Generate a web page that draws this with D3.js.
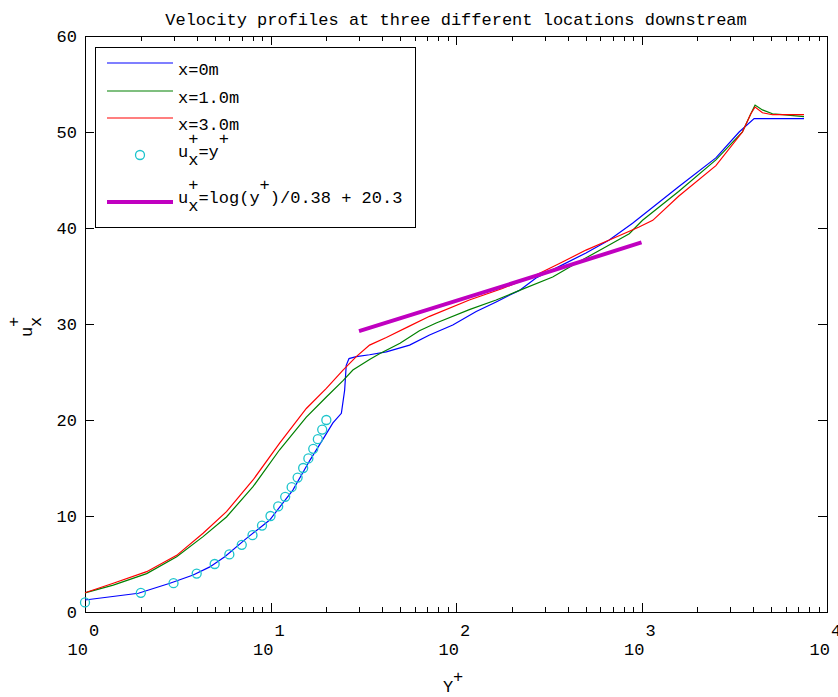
<!DOCTYPE html>
<html>
<head>
<meta charset="utf-8">
<script src="https://cdn.jsdelivr.net/npm/d3@7"></script>
<style>
    body { margin: 0; background: #fff; }
    text { font-family: "Liberation Mono", "DejaVu Sans Mono", monospace; font-size: 17px; fill: #000; }
</style>
</head>
<body>
<script>
// series (y+ , u+)
const yPlus0 = [1, 1.94, 2.87, 3.83, 4.71, 5.67, 7.42, 9.9, 13.2, 16.3, 19.6, 21.7, 24.1, 25.1, 25.6, 26.5, 29.0, 34.2, 42.1, 56.2, 72.0, 96.1, 128.5, 164.6, 194, 219.8, 270, 361, 502, 670, 895, 1585, 2518, 3360, 4047, 7516];
const uPlus0 = [1.25, 1.95, 3.0, 3.85, 4.7, 5.76, 7.67, 9.58, 12.7, 15.8, 18.3, 19.7, 20.7, 23.1, 25.7, 26.4, 26.6, 26.8, 27.1, 27.8, 28.85, 29.9, 31.3, 32.3, 33.0, 33.5, 34.8, 36.0, 37.4, 38.75, 40.5, 44.3, 47.3, 50.0, 51.4, 51.4];

const yPlus1 = [1, 1.42, 2.15, 3.12, 4.33, 5.79, 8.05, 11.2, 15.6, 20.0, 24.6, 27.8, 34.2, 38.7, 49.9, 63.5, 78.2, 118, 164.6, 220, 332, 462, 644, 859, 1013, 1585, 2518, 3500, 3885, 4095, 4487, 5080, 5745, 7516];
const uPlus1 = [2.0, 2.8, 4.0, 5.76, 7.85, 9.9, 13.05, 16.9, 20.3, 22.4, 24.1, 25.2, 26.3, 26.9, 28.0, 29.3, 30.1, 31.5, 32.5, 33.5, 34.9, 36.5, 38.05, 39.4, 40.8, 43.8, 47.1, 50.0, 51.9, 52.8, 52.3, 51.9, 51.8, 51.6];

const yPlus3 = [1, 1.42, 2.15, 3.12, 4.33, 5.79, 8.05, 11.2, 15.6, 20.0, 24.6, 29.0, 34.2, 42.1, 55, 72, 118, 178, 270, 361, 502, 700, 970, 1150, 1585, 2518, 3500, 3885, 4095, 4487, 5080, 7516];
const uPlus3 = [2.0, 3.0, 4.2, 5.9, 8.2, 10.45, 13.75, 17.6, 21.2, 23.3, 25.2, 26.6, 27.8, 28.6, 29.7, 30.8, 32.5, 33.7, 35.1, 36.3, 37.7, 38.9, 40.1, 40.8, 43.3, 46.5, 50.0, 51.9, 52.6, 52.0, 51.8, 51.8];

const yPlusLin = [1, 2, 3, 4, 5, 6, 7, 8, 9, 10, 11, 12, 13, 14, 15, 16, 17, 18, 19, 20];
const uPlusLin = [1, 2, 3, 4, 5, 6, 7, 8, 9, 10, 11, 12, 13, 14, 15, 16, 17, 18, 19, 20];

const yPlusLog = [30, 100, 300, 1000];
const uPlusLog = [29.25, 32.4, 35.3, 38.5];

const xTickExps = [0, 1, 2, 3, 4];
const yTicks = [0, 10, 20, 30, 40, 50, 60];
const titleText = "Velocity profiles at three different locations downstream";

const width = 838, height = 697;
const margin = { top: 36, right: 11, bottom: 85, left: 85 };

const svg = d3.select("body").append("svg")
    .attr("width", width)
    .attr("height", height);

const x = d3.scaleLog().domain([1, 1e4]).range([margin.left, width - margin.right]);
const y = d3.scaleLinear().domain([0, 60]).range([height - margin.bottom, margin.top]);

const majorX = xTickExps.map(e => Math.pow(10, e));
const minorX = [];
for (let e = 0; e < 4; e++) {
    for (let k = 2; k <= 9; k++) minorX.push(k * Math.pow(10, e));
}

// ticks, pointing inward, on all four sides
const addAxis = (axis, tx, ty) => {
    const g = svg.append("g")
        .attr("transform", `translate(${tx},${ty})`)
        .call(axis);
    g.select(".domain").remove();
    g.selectAll("text").remove();
    g.selectAll("line").attr("stroke", "#000").attr("shape-rendering", "crispEdges");
};
addAxis(d3.axisBottom(x).tickValues(minorX).tickSize(-5), 0, y(0));
addAxis(d3.axisBottom(x).tickValues(majorX).tickSize(-9), 0, y(0));
addAxis(d3.axisTop(x).tickValues(minorX).tickSize(-5), 0, y(60));
addAxis(d3.axisTop(x).tickValues(majorX).tickSize(-9), 0, y(60));
addAxis(d3.axisLeft(y).tickValues(yTicks).tickSize(-9), x(1), 0);
addAxis(d3.axisRight(y).tickValues(yTicks).tickSize(-9), x(1e4), 0);

svg.append("rect")
    .attr("x", x(1)).attr("y", y(60))
    .attr("width", x(1e4) - x(1)).attr("height", y(0) - y(60))
    .attr("fill", "none").attr("stroke", "#000")
    .attr("shape-rendering", "crispEdges");

// tick labels
svg.selectAll("text.ytick").data(yTicks).enter().append("text")
    .attr("class", "ytick")
    .attr("x", x(1) - 8)
    .attr("y", d => y(d) + 6)
    .attr("text-anchor", "end")
    .text(d => d);

const xl = svg.selectAll("g.xtick").data(xTickExps).enter().append("g")
    .attr("class", "xtick")
    .attr("transform", d => `translate(${x(Math.pow(10, d))},0)`);
xl.append("text").attr("x", 3).attr("y", 655).attr("text-anchor", "end").text("10");
xl.append("text").attr("x", 4).attr("y", 636).text(d => d);

// title and axis labels
svg.append("text")
    .attr("x", (x(1) + x(1e4)) / 2).attr("y", 25)
    .attr("text-anchor", "middle")
    .text(titleText);

svg.append("text").attr("x", 443).attr("y", 692).text("Y");
svg.append("text").attr("x", 453).attr("y", 682).text("+");

const yl = svg.append("g").attr("transform", "translate(32,337) rotate(-90)");
yl.append("text").attr("x", 0).attr("y", 0).text("u");
yl.append("text").attr("x", 10).attr("y", -13).text("+");
yl.append("text").attr("x", 10).attr("y", 9).text("x");

// curves
const line = d3.line()
    .x(d => x(d[0]))
    .y(d => y(d[1]));

const series = [
    { xs: yPlus0, ys: uPlus0, color: "#0000ff", w: 1.2 },
    { xs: yPlus1, ys: uPlus1, color: "#008000", w: 1.2 },
    { xs: yPlus3, ys: uPlus3, color: "#ff0000", w: 1.2 }
];
series.forEach(s => {
    svg.append("path")
        .datum(s.xs.map((v, i) => [v, s.ys[i]]))
        .attr("d", line)
        .attr("fill", "none")
        .attr("stroke", s.color)
        .attr("stroke-width", s.w);
});

svg.selectAll("circle.lin").data(yPlusLin.map((v, i) => [v, uPlusLin[i]])).enter()
    .append("circle")
    .attr("class", "lin")
    .attr("cx", d => x(d[0]))
    .attr("cy", d => y(d[1]))
    .attr("r", 4.5)
    .attr("fill", "none")
    .attr("stroke", "#1cc4cc")
    .attr("stroke-width", 1.3);

svg.append("path")
    .datum(yPlusLog.map((v, i) => [v, uPlusLog[i]]))
    .attr("d", line)
    .attr("fill", "none")
    .attr("stroke", "#c000c0")
    .attr("stroke-width", 4);

// legend
const lg = svg.append("g");
lg.append("rect")
    .attr("x", 95.5).attr("y", 47.5).attr("width", 320).attr("height", 180)
    .attr("fill", "#fff").attr("stroke", "#000");

const legendLines = [
    { label: "x=0m", color: "#0000ff", ly: 63 },
    { label: "x=1.0m", color: "#008000", ly: 91 },
    { label: "x=3.0m", color: "#ff0000", ly: 118 }
];
legendLines.forEach(e => {
    lg.append("line").attr("x1", 107).attr("x2", 173).attr("y1", e.ly).attr("y2", e.ly)
        .attr("stroke", e.color).attr("stroke-width", 1.2);
    lg.append("text").attr("x", 178).attr("y", e.ly + 12).text(e.label);
});

const cw = 10.2;
lg.append("circle").attr("cx", 140).attr("cy", 155).attr("r", 4.5)
    .attr("fill", "none").attr("stroke", "#1cc4cc").attr("stroke-width", 1.3);
const t4 = lg.append("g").attr("transform", "translate(178,157)");
t4.append("text").attr("x", 0).attr("y", 0).text("u");
t4.append("text").attr("x", cw).attr("y", -13).text("+");
t4.append("text").attr("x", cw).attr("y", 8).text("x");
t4.append("text").attr("x", 2 * cw).attr("y", 0).text("=y");
t4.append("text").attr("x", 4 * cw).attr("y", -13).text("+");

lg.append("line").attr("x1", 107).attr("x2", 173).attr("y1", 202).attr("y2", 202)
    .attr("stroke", "#c000c0").attr("stroke-width", 4);
const t5 = lg.append("g").attr("transform", "translate(178,203)");
t5.append("text").attr("x", 0).attr("y", 0).text("u");
t5.append("text").attr("x", cw).attr("y", -13).text("+");
t5.append("text").attr("x", cw).attr("y", 8).text("x");
t5.append("text").attr("x", 2 * cw).attr("y", 0).text("=log(y");
t5.append("text").attr("x", 8 * cw).attr("y", -13).text("+");
t5.append("text").attr("x", 9 * cw).attr("y", 0).attr("xml:space", "preserve").style("white-space", "pre").text(")/0.38 + 20.3");
</script>
</body>
</html>
